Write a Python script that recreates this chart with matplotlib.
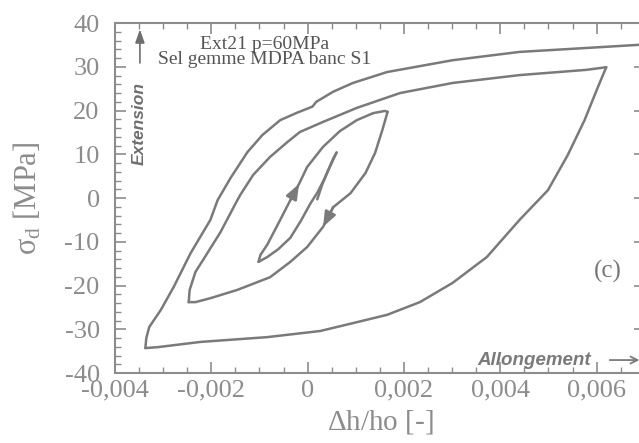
import matplotlib.pyplot as plt
from matplotlib.ticker import MultipleLocator

plt.rcParams['font.family'] = 'Liberation Serif'
plt.rcParams['mathtext.fontset'] = 'custom'
plt.rcParams['mathtext.rm'] = 'Liberation Serif'
plt.rcParams['mathtext.it'] = 'Liberation Serif:italic'

# strain dh/ho in units of 1e-3, deviatoric stress in MPa
# the test is one continuous path: small cycle, then wider and wider cycles
up1_x = [0.20, 0.30, 0.42, 0.53, 0.60]
up1_y = [-0.3, 3.0, 6.2, 9.0, 10.4]

down1_x = [0.60, 0.49, 0.34, 0.20, 0.06, -0.14, -0.36, -0.61, -0.84, -1.02]
down1_y = [10.4, 7.8, 4.2, 1.2, -1.2, -5.2, -9.1, -11.7, -13.5, -14.6]

up2_x = [-1.02, -0.98, -0.84, -0.57, -0.36, -0.18, -0.01, 0.32, 0.67, 1.02, 1.36, 1.60, 1.66]
up2_y = [-14.6, -13.0, -10.7, -5.0, -0.5, 3.2, 7.1, 11.7, 15.3, 17.8, 19.4, 19.9, 19.7]

down2_x = [1.66, 1.55, 1.40, 1.20, 0.89, 0.53, 0.32, -0.01, -0.36, -0.78, -1.46, -2.02, -2.33, -2.47]
down2_y = [19.7, 15.5, 10.3, 5.7, 1.1, -2.1, -6.6, -11.2, -14.6, -18.1, -21.0, -22.9, -23.8, -23.8]

up3_x = [-2.47, -2.45, -2.33, -2.14, -1.81, -1.58, -1.46, -1.40, -1.13, -0.78, -0.42, -0.16,
         0.32, 1.02, 1.92, 3.01, 4.40, 5.79, 6.20]
up3_y = [-23.8, -21.0, -16.9, -13.6, -7.8, -3.0, -0.5, 0.7, 5.3, 9.4, 12.8, 15.1,
         17.4, 20.6, 24.0, 26.3, 28.1, 29.3, 29.9]

down3_x = [6.20, 6.01, 5.75, 5.40, 4.99, 4.40, 3.72, 3.01, 2.33, 1.65, 0.94, 0.26,
           -0.84, -2.23, -3.12, -3.37]
down3_y = [29.9, 24.9, 17.8, 9.8, 1.8, -5.0, -13.5, -19.4, -23.8, -26.7, -28.6, -30.4,
           -31.8, -32.9, -34.1, -34.3]

up4_x = [-3.37, -3.35, -3.29, -3.05, -2.78, -2.43, -2.02, -1.87, -1.60, -1.25, -0.94,
         -0.57, -0.22, 0.01, 0.10, 0.18, 0.53, 0.94, 1.65, 3.01, 4.40, 5.79, 7.00]
up4_y = [-34.3, -32.0, -29.5, -25.6, -20.3, -12.6, -5.0, -0.5, 4.6, 10.5, 14.4,
         17.8, 19.5, 20.5, 20.9, 22.0, 24.3, 26.3, 28.8, 31.5, 33.4, 34.3, 35.1]

branches = [(up1_x, up1_y), (down1_x, down1_y), (up2_x, up2_y), (down2_x, down2_y),
            (up3_x, up3_y), (down3_x, down3_y), (up4_x, up4_y)]

x_ticks = [-4, -2, 0, 2, 4, 6]
x_tick_labels = ['-0,004', '-0,002', '0', '0,002', '0,004', '0,006']
y_ticks = [-40, -30, -20, -10, 0, 10, 20, 30, 40]
y_tick_labels = ['-40', '-30', '-20', '-10', '0', '10', '20', '30', '40']

line_col = '#7a7a7a'
tick_col = '#8c8c8c'

fig = plt.figure(figsize=(6.39, 4.43), dpi=100)
ax = fig.add_axes([0.18, 0.158, 0.829, 0.790])

for bx, by in branches:
    ax.plot(bx, by, color=line_col, lw=1.8, solid_joinstyle='round', solid_capstyle='round')

# direction arrows sitting on the curves
ax.annotate('', xy=(up2_x[5], up2_y[5]), xytext=(up2_x[4], up2_y[4]),
            arrowprops=dict(arrowstyle='-|>,head_length=0.9,head_width=0.35',
                            color=line_col, lw=1.8, shrinkA=0, shrinkB=0),
            annotation_clip=False)
ax.annotate('', xy=(down2_x[6], down2_y[6]), xytext=(down2_x[5], down2_y[5]),
            arrowprops=dict(arrowstyle='-|>,head_length=0.9,head_width=0.35',
                            color=line_col, lw=1.8, shrinkA=0, shrinkB=0),
            annotation_clip=False)

ax.set_xlim(-4, 7)
ax.set_ylim(-40, 40)
ax.set_xticks(x_ticks)
ax.set_xticklabels(x_tick_labels)
ax.set_yticks(y_ticks)
ax.set_yticklabels(y_tick_labels)
ax.xaxis.set_minor_locator(MultipleLocator(0.5))
ax.yaxis.set_minor_locator(MultipleLocator(2))
ax.tick_params(which='both', direction='in', top=True, right=True,
               colors=tick_col, labelsize=19)
ax.tick_params(which='major', length=8, width=1.2)
ax.tick_params(which='minor', length=4, width=1.0)
ax.tick_params(axis='y', pad=11)
ax.tick_params(axis='x', pad=5)
for sp in ax.spines.values():
    sp.set_color(tick_col)
    sp.set_linewidth(1.5)

ax.set_xlabel(r'$\Delta$h/ho [-]', fontsize=21, color=tick_col)
ax.set_ylabel('σ$_{\\rm d}$ [MPa]', fontsize=22, color=tick_col)
ax.xaxis.set_label_coords(0.5, -0.1)
ax.yaxis.set_label_coords(-0.135, 0.5)

ax.text(0.283, 0.918, 'Ext21 p=60MPa\nSel gemme MDPA banc S1', transform=ax.transAxes,
        ha='center', va='center', fontsize=14, linespacing=0.85, color='#555555')
ax.text(0.93, 0.291, '(c)', transform=ax.transAxes,
        ha='center', va='center', fontsize=18, color='#777777')

ax.text(0.045, 0.713, 'Extension', transform=ax.transAxes, rotation=90,
        ha='center', va='center', fontsize=12.5, family='Liberation Sans',
        style='italic', weight='bold', color='#6e6e6e')
ax.annotate('', xy=(0.047, 0.982), xytext=(0.047, 0.886), xycoords='axes fraction',
            arrowprops=dict(arrowstyle='-|>,head_length=0.8,head_width=0.28',
                            color='#6e6e6e', lw=1.2, shrinkA=0, shrinkB=0))
ax.text(0.792, 0.037, 'Allongement', transform=ax.transAxes,
        ha='center', va='center', fontsize=13.5, family='Liberation Sans',
        style='italic', weight='bold', color='#7a7a7a')
ax.annotate('', xy=(0.99, 0.037), xytext=(0.934, 0.037), xycoords='axes fraction',
            arrowprops=dict(arrowstyle='->,head_length=0.5,head_width=0.25',
                            color='#7a7a7a', lw=1.3, shrinkA=0, shrinkB=0))

fig.savefig('out.png', dpi=100)
